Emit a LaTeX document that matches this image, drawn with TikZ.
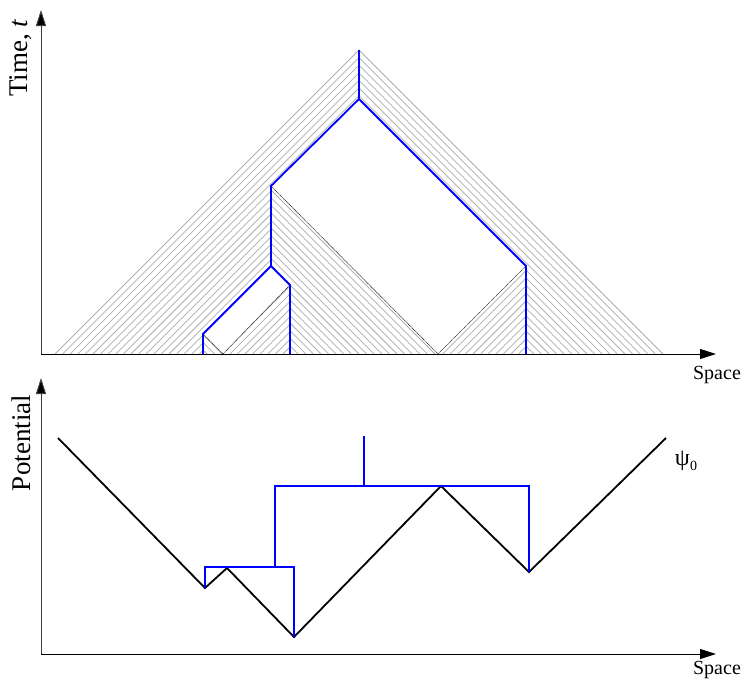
\documentclass[tikz,border=0pt]{standalone}
\usepackage{fontspec}
\setmainfont{Liberation Serif}
\usetikzlibrary{arrows.meta}
\begin{document}
\begin{tikzpicture}[x=1pt,y=-1pt,
  hatch/.style={draw=black!32, line width=0.75pt},
  blueline/.style={draw=blue, line width=1.8pt},
  dotline/.style={draw=black!85, line width=0.6pt, dash pattern=on 1.2pt off 0.6pt},
  axisv/.style={draw=black!75, line width=1pt, -{Triangle[length=16pt,width=10pt,fill=black]}},
  axish/.style={draw=black, line width=1pt, -{Triangle[length=16pt,width=10pt]}},
  pot/.style={draw=black, line width=1.8pt},
  vlbl/.style={inner sep=0pt, rotate=90, font=\fontsize{27}{30}\selectfont},
  hlbl/.style={inner sep=0pt, font=\fontsize{20}{24}\selectfont}
]
\useasboundingbox (0,0) rectangle (745,681);

% ---------- named points, top panel ----------
\coordinate (apex) at (359,50);
\coordinate (bt) at (359,99);
\coordinate (o1) at (203,354);
\coordinate (s1) at (203,334);
\coordinate (s2) at (271,266);
\coordinate (s3) at (290,285);
\coordinate (s4) at (223,354);
\coordinate (s5) at (290,354);
\coordinate (b1) at (271,186);
\coordinate (b2) at (526,266);
\coordinate (b3) at (438,354);
\coordinate (b4) at (526,354);

% ---------- hatching ----------
\begin{scope}
\clip (50,356) -- (359,47) -- (bt) -- (b1) -- (s2) -- (s1) -- (o1) -- cycle;
\foreach \k in {0,...,80} {\draw[hatch] ({55+\k*7.6},354) -- ++(320,-320);}
\end{scope}
\begin{scope}
\clip (s4) -- (s3) -- (s5) -- cycle;
\foreach \k in {0,...,80} {\draw[hatch] ({55+\k*7.6},354) -- ++(320,-320);}
\end{scope}
\begin{scope}
\clip (b3) -- (b2) -- (b4) -- cycle;
\foreach \k in {0,...,80} {\draw[hatch] ({55+\k*7.6},354) -- ++(320,-320);}
\end{scope}
\begin{scope}
\clip (668,356) -- (359,47) -- (bt) -- (b2) -- (b4) -- cycle;
\foreach \k in {0,...,80} {\draw[hatch] ({55+\k*7.6},354) -- ++(-320,-320);}
\end{scope}
\begin{scope}
\clip (b1) -- (b3) -- (s5) -- (s3) -- (s2) -- cycle;
\foreach \k in {0,...,80} {\draw[hatch] ({55+\k*7.6},354) -- ++(-320,-320);}
\end{scope}
\begin{scope}
\clip (s1) -- (s4) -- (o1) -- cycle;
\foreach \k in {0,...,80} {\draw[hatch] ({55+\k*7.6},354) -- ++(-320,-320);}
\end{scope}

% ---------- dotted boundaries ----------
\draw[dotline] (s1) -- (s4) -- (s3);
\draw[dotline] (b1) -- (b3) -- (b2);

% ---------- blue tree, top ----------
\draw[blueline] (o1) -- (s1) -- (s2) -- (b1) -- (bt) -- (apex);
\draw[blueline] (bt) -- (b2) -- (b4);
\draw[blueline] (s2) -- (s3) -- (s5);

% ---------- axes, top ----------
\coordinate (O1) at (41,354);
\coordinate (Y1) at (41,10);
\coordinate (X1) at (716,354);
\draw[axisv] (O1) -- (Y1);
\draw[axish] (O1) -- (X1);
\node[vlbl] (tlab) at (21,58) {Time, \textit{t}};
\node[hlbl] (xlab1) at (717,375) {Space};

% ---------- bottom panel ----------
\coordinate (p0) at (58,438);
\coordinate (p1) at (205,588);
\coordinate (p2) at (227,568);
\coordinate (p3) at (294,637);
\coordinate (p4) at (441,486);
\coordinate (p5) at (529,572);
\coordinate (p6) at (666,438);
\draw[pot] (p0) -- (p1) -- (p2) -- (p3) -- (p4) -- (p5) -- (p6);

\coordinate (q1) at (205,567);
\coordinate (q2) at (294,567);
\coordinate (q3) at (275,567);
\coordinate (q4) at (275,486);
\coordinate (q5) at (529,486);
\coordinate (q6) at (364,486);
\coordinate (q7) at (364,436);
\draw[blueline] (p1) -- (q1) -- (q2) -- (p3);
\draw[blueline] (q3) -- (q4) -- (q5) -- (p5);
\draw[blueline] (q6) -- (q7);

\coordinate (O2) at (41,654);
\coordinate (Y2) at (41,378);
\coordinate (X2) at (716,654);
\draw[axisv] (O2) -- (Y2);
\draw[axish] (O2) -- (X2);
\node[vlbl] (plab) at (21,443) {Potential};
\node[hlbl] (xlab2) at (717,670) {Space};
\node[inner sep=0pt, font=\fontsize{24}{26}\selectfont] (psilab) at (686,461) {ψ\raisebox{-0.45ex}{\fontsize{14}{16}\selectfont 0}};
\end{tikzpicture}
\end{document}
